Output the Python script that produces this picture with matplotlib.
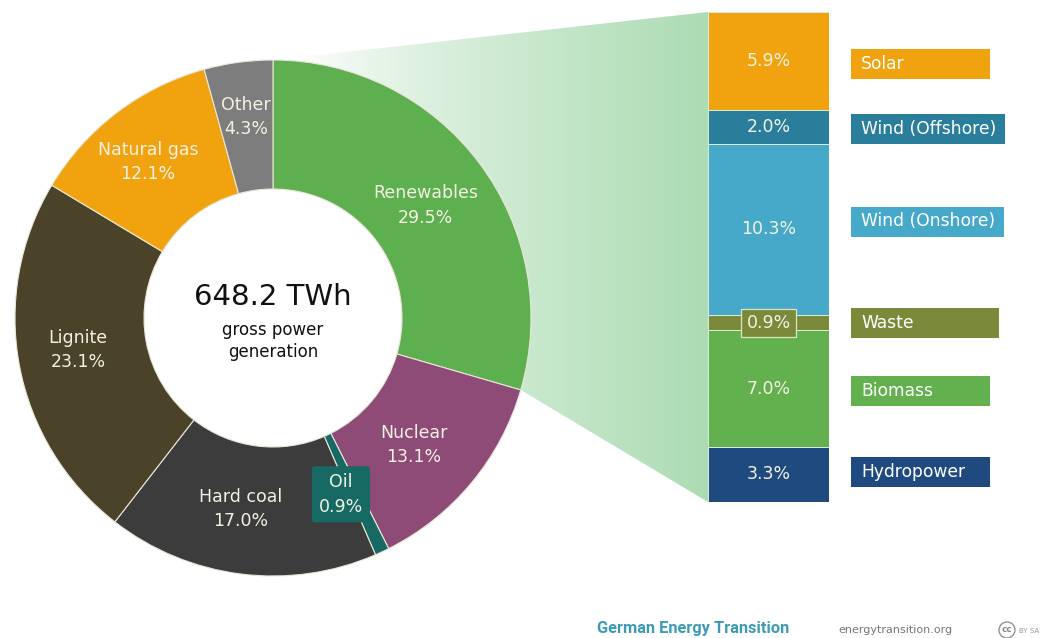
import numpy as np
import matplotlib.pyplot as plt
from matplotlib.patches import Polygon, Rectangle, Circle
import matplotlib.colors as mcolors

# gross power generation by source (%)
sources = ['Renewables', 'Nuclear', 'Oil', 'Hard coal', 'Lignite', 'Natural gas', 'Other']
shares = [29.5, 13.1, 0.9, 17.0, 23.1, 12.1, 4.3]
source_colors = ['#5daf50', '#8e4b78', '#176a63', '#3c3c3c', '#4a4329', '#f0a30f', '#7d7d7d']
total_label = '648.2 TWh'

# renewables split (%), top to bottom of the bar
ren_sources = ['Solar', 'Wind (Offshore)', 'Wind (Onshore)', 'Waste', 'Biomass', 'Hydropower']
ren_shares = [5.9, 2.0, 10.3, 0.9, 7.0, 3.3]
ren_colors = ['#f0a30f', '#2a7e9b', '#46a9c9', '#7a8a3a', '#62b04e', '#1e4a7f']

W, H = 1043, 638
txt_col = '#f4f1e2'
fig = plt.figure(figsize=(W / 100, H / 100), dpi=100)
fig.patch.set_facecolor('white')

# background axes in pixel units (y downwards)
bg = fig.add_axes([0, 0, 1, 1])
bg.axis('off')


def px_axes(left, top, width, height):
    return fig.add_axes([left / W, (H - top - height) / H, width / W, height / H])


ax_pie = px_axes(15, 60, 516, 516)
ax_bar = px_axes(708, 12, 121, 490)

# donut
wedges, _ = ax_pie.pie(shares, colors=source_colors, startangle=90, counterclock=False,
                       radius=1, wedgeprops=dict(width=0.5, edgecolor='#e9e6d6', linewidth=0.8))
ax_pie.set_xlim(-1, 1)
ax_pie.set_ylim(-1, 1)

# label placement inside the ring (radius, angle shift in degrees)
label_r = [0.735, 0.735, 0.74, 0.75, 0.765, 0.775, 0.785]
label_shift = [-0.5, -2.2, -2.5, -2.5, -1.3, 1.4, 0]
for w, name, val, r, sh in zip(wedges, sources, shares, label_r, label_shift):
    ang = np.deg2rad((w.theta1 + w.theta2) / 2 + sh)
    x, y = r * np.cos(ang), r * np.sin(ang)
    s = f'{name}\n{val:.1f}%'
    if name == 'Oil':
        ax_pie.text(x - 0.02, y, s, ha='center', va='center', fontsize=12.5, color=txt_col,
                    linespacing=1.45,
                    bbox=dict(boxstyle='round,pad=0.4,rounding_size=0.2', fc='#176a63', ec='none'))
    else:
        ax_pie.text(x, y, s, ha='center', va='center', fontsize=12.5, color=txt_col,
                    linespacing=1.45)

ax_pie.text(0, 0.08, total_label, ha='center', va='center', fontsize=21, color='#111111')
ax_pie.text(0, -0.09, 'gross power\ngeneration', ha='center', va='center', fontsize=12,
            color='#111111', linespacing=1.3)

# stacked bar for renewables
ren_total = sum(ren_shares)
starts = np.cumsum([0] + ren_shares[:-1])
ax_bar.bar(np.zeros(len(ren_shares)), ren_shares, bottom=starts, width=1, color=ren_colors,
           edgecolor='#dcecdc', linewidth=0.7)
ax_bar.set_xlim(-0.5, 0.5)
ax_bar.set_ylim(ren_total, 0)
ax_bar.axis('off')

for name, val, st, c in zip(ren_sources, ren_shares, starts, ren_colors):
    yc = st + val / 2
    if name == 'Waste':
        ax_bar.text(0, yc, f'{val:.1f}%', ha='center', va='center', fontsize=12.5, color=txt_col,
                    bbox=dict(boxstyle='square,pad=0.3', fc=c, ec='#dfe6bf', lw=0.9))
    else:
        ax_bar.text(0, yc, f'{val:.1f}%', ha='center', va='center', fontsize=12.5, color=txt_col)

bg.set_xlim(0, W)
bg.set_ylim(H, 0)


def to_px(ax, x, y):
    return bg.transData.inverted().transform(ax.transData.transform((x, y)))


# connector from the renewables wedge to the bar
t1 = np.deg2rad(wedges[0].theta1)
pts = [to_px(ax_pie, 0, 1), to_px(ax_bar, -0.5, 0), to_px(ax_bar, -0.5, ren_total),
       to_px(ax_pie, np.cos(t1), np.sin(t1))]
poly = Polygon(pts, closed=True, fc='none', ec='none')
bg.add_patch(poly)
xs = np.linspace(pts[0][0], pts[1][0], 300)
t = np.clip((xs - 300) / (pts[1][0] - 300), 0, 1) ** 0.75
green = np.array(mcolors.to_rgb('#acdcb3'))
grad = (1 - t)[:, None] * np.ones(3) + t[:, None] * green
img = bg.imshow(np.repeat(grad[None, :, :], 2, axis=0), extent=(pts[0][0], pts[1][0], 520, 0),
                aspect='auto', zorder=0)
img.set_clip_path(poly)

# legend boxes to the right of the bar
box_w = [139, 154, 153, 148, 139, 139]
box_dy = [3, 2, -8, 0, 2, -2]
for name, val, st, c, bw, dy in zip(ren_sources, ren_shares, starts, ren_colors, box_w, box_dy):
    yp = to_px(ax_bar, 0, st + val / 2)[1] + dy
    bg.add_patch(Rectangle((851, yp - 15), bw, 30, fc=c, ec='none'))
    bg.text(861, yp, name, ha='left', va='center', fontsize=12.3, color='white')

# footer
bg.text(597, 628, 'German Energy Transition', ha='left', va='center', fontsize=11.8,
        fontweight='bold', color='#3d9bb5', family=['Roboto', 'DejaVu Sans'])
bg.text(838, 630, 'energytransition.org', ha='left', va='center', fontsize=8, color='#777777')
bg.add_patch(Circle((1007, 630), 8, fc='none', ec='#888888', lw=0.9))
bg.text(1007, 630, 'cc', ha='center', va='center', fontsize=6.5, fontweight='bold', color='#888888')
bg.text(1019, 631, 'BY SA', ha='left', va='center', fontsize=5, color='#999999')
bg.set_xlim(0, W)
bg.set_ylim(H, 0)

fig.savefig('out.png', dpi=100, facecolor='white')
